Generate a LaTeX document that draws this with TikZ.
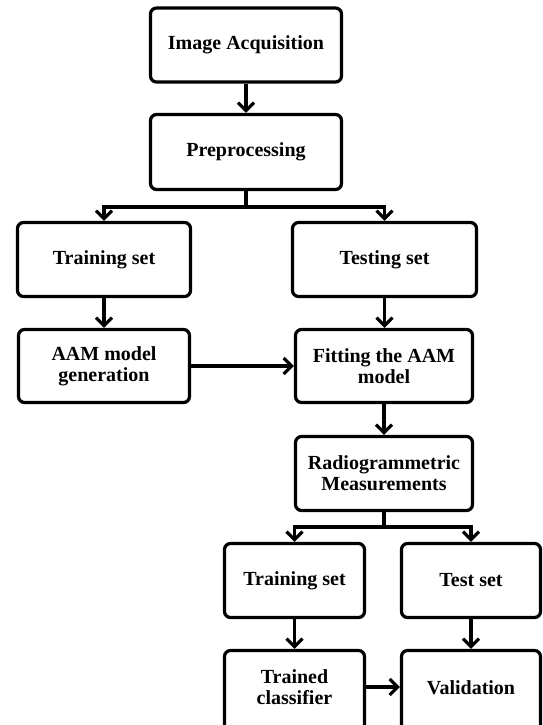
\documentclass[tikz,border=0pt]{standalone}
\usepackage{fontspec}
\setmainfont{Liberation Serif}
\usetikzlibrary{arrows.meta}
\begin{document}
\begin{tikzpicture}[x=1pt,y=-1pt,
  box/.style={draw=black, line width=3.2pt, rounded corners=6pt, fill=white, inner sep=0pt, align=center, font=\bfseries\fontsize{20}{21}\selectfont},
  txt/.style={inner sep=0pt, align=center, font=\bfseries\fontsize{20}{21}\selectfont},
  arr/.style={line width=3.2pt, -{Straight Barb[length=8pt,width=16pt]}},
  ln/.style={line width=3.2pt}]
\useasboundingbox (0,0) rectangle (542,725);
\clip (0,0) rectangle (542,725);
\fill[white] (0,0) rectangle (542,725);

\node[box, minimum width=191, minimum height=74] (ia) at (246,45) {Image Acquisition};
\node[box, minimum width=191, minimum height=75] (pre) at (246,152) {Preprocessing};
\node[box, minimum width=173, minimum height=74] (tr) at (104,259.5) {Training set};
\node[box, minimum width=184, minimum height=74] (te) at (384.5,259.5) {Testing set};
\node[box, minimum width=171, minimum height=73] (aam) at (104,366) {AAM model\\generation};
\node[box, minimum width=177, minimum height=73] (fit) at (384,366) {Fitting the AAM\\model};
\node[box, minimum width=177, minimum height=74] (rad) at (384,473.5) {Radiogrammetric\\Measurements};
\node[box, minimum width=140, minimum height=74] (tr2) at (294.5,580.5) {Training set};
\node[box, minimum width=139, minimum height=74] (ts) at (471,580.5) {Test set};
\node[box, minimum width=140, minimum height=90] (tc) at (294.5,695.5) {};
\node[txt] (tct) at (294.5,687) {Trained\\classifier};
\node[box, minimum width=139, minimum height=90] (va) at (471,695.5) {};
\node[txt] (vat) at (471,688) {Validation};

\draw[arr] (ia) -- (pre);
\coordinate (b1) at (246,207);
\draw[ln] (pre.south) -- (b1);
\draw[arr] (b1) -| (tr.north);
\draw[arr] (b1) -| (te.north);
\draw[arr] (tr) -- (aam);
\draw[arr] (te.south) -- (te.south |- fit.north);
\draw[arr] (aam) -- (fit);
\draw[arr] (fit) -- (rad);
\coordinate (b2) at (384,527);
\draw[ln] (rad.south) -- (b2);
\draw[arr] (b2) -| (tr2.north);
\draw[arr] (b2) -| (ts.north);
\draw[arr] (tr2) -- (tc);
\draw[arr] (ts) -- (va);
\draw[arr] (tc.east |- tct.center) -- (va.west |- tct.center);
\end{tikzpicture}
\end{document}
